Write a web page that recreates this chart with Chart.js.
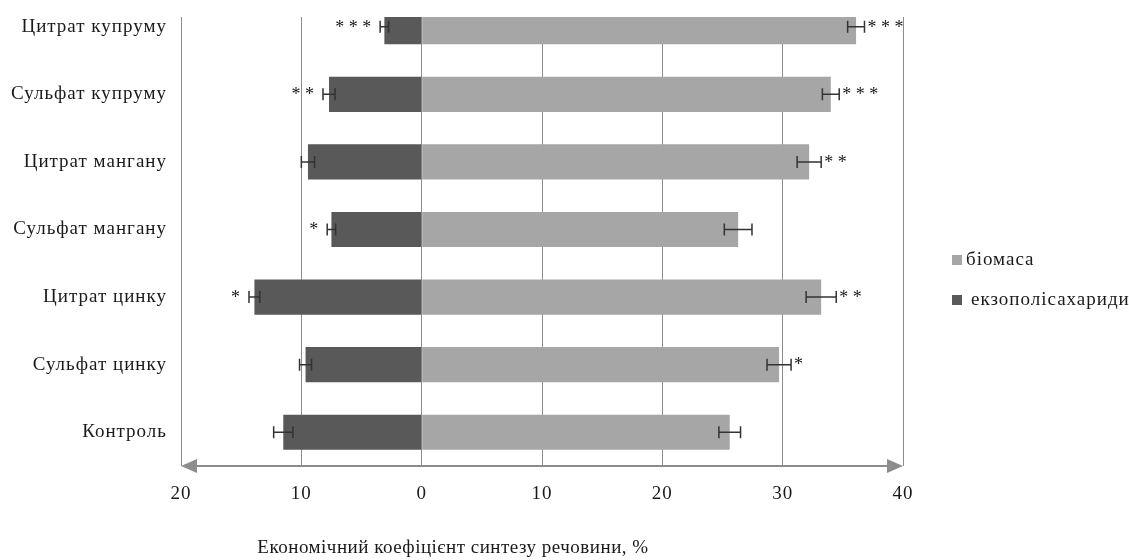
<!DOCTYPE html>
<html>
<head>
<meta charset="utf-8">
<script src="https://cdn.jsdelivr.net/npm/chart.js@4.4.1/dist/chart.umd.min.js"></script>
<style>
  html, body { margin: 0; padding: 0; background: #fff; }
  #wrap { position: absolute; left: 0; top: 17px; width: 1129px; height: 543px; overflow: hidden; }
  #chart { position: absolute; left: 0; top: -24px; }
</style>
</head>
<body>
<div id="wrap"><canvas id="chart" width="1129" height="567"></canvas></div>
<script>
// Data
const categories = ['Цитрат купруму', 'Сульфат купруму', 'Цитрат мангану', 'Сульфат мангану', 'Цитрат цинку', 'Сульфат цинку', 'Контроль'];
const biomass = [36.1, 34.0, 32.2, 26.3, 33.2, 29.7, 25.6];
const biomassErr = [0.7, 0.7, 1.0, 1.15, 1.25, 1.0, 0.9];
const exopoly = [3.1, 7.7, 9.45, 7.5, 13.9, 9.65, 11.5];
const exopolyErr = [0.35, 0.5, 0.55, 0.35, 0.45, 0.5, 0.8];
const biomassSig = ['* * *', '* * *', '* *', '', '* *', '*', ''];
const exopolySig = ['* * *', '* *', '', '*', '*', '', ''];
const xTicks = [-20, -10, 0, 10, 20, 30, 40];
const seriesNames = ['біомаса', 'екзополісахариди'];
const axisTitle = 'Економічний коефіцієнт синтезу речовини, %';

const FONT = '"Liberation Serif", "Times New Roman", serif';
const LIGHT = '#a6a6a6';
const DARK = '#595959';
const AXIS = '#8c8c8c';
const TEXT = '#1a1a1a';

// error bars, significance stars, arrowed axis, legend and title
const decor = {
    id: 'decor',
    beforeDraw(chart) {
        chart.ctx.letterSpacing = '1px';
    },
    afterDatasetsDraw(chart) {
        const ctx = chart.ctx;
        const x = chart.scales.x;
        const y = chart.scales.y;
        const area = chart.chartArea;
        ctx.save();

        // error bars
        ctx.strokeStyle = '#333';
        ctx.lineWidth = 1.5;
        const cap = 6;
        const whisker = (v, e, yc) => {
            const a = x.getPixelForValue(v - e);
            const b = x.getPixelForValue(v + e);
            ctx.beginPath();
            ctx.moveTo(a, yc); ctx.lineTo(b, yc);
            ctx.moveTo(a, yc - cap); ctx.lineTo(a, yc + cap);
            ctx.moveTo(b, yc - cap); ctx.lineTo(b, yc + cap);
            ctx.stroke();
        };
        categories.forEach((c, i) => {
            const yc = y.getPixelForValue(i);
            whisker(biomass[i], biomassErr[i], yc);
            whisker(-exopoly[i], exopolyErr[i], yc);
        });

        // stars
        ctx.letterSpacing = '0px';
        ctx.fillStyle = TEXT;
        ctx.font = '18px ' + FONT;
        ctx.textBaseline = 'middle';
        categories.forEach((c, i) => {
            const yc = y.getPixelForValue(i) + 1;
            if (biomassSig[i]) {
                ctx.textAlign = 'left';
                ctx.fillText(biomassSig[i], x.getPixelForValue(biomass[i] + biomassErr[i]) + 3, yc);
            }
            if (exopolySig[i]) {
                ctx.textAlign = 'right';
                ctx.fillText(exopolySig[i], x.getPixelForValue(-exopoly[i] - exopolyErr[i]) - 9, yc);
            }
        });

        // bottom axis with arrowheads
        const yb = area.bottom;
        ctx.strokeStyle = AXIS;
        ctx.fillStyle = AXIS;
        ctx.lineWidth = 2;
        ctx.beginPath();
        ctx.moveTo(area.left + 10, yb); ctx.lineTo(area.right - 10, yb);
        ctx.stroke();
        ctx.beginPath();
        ctx.moveTo(area.left, yb); ctx.lineTo(area.left + 16, yb - 7); ctx.lineTo(area.left + 16, yb + 7);
        ctx.closePath(); ctx.fill();
        ctx.beginPath();
        ctx.moveTo(area.right, yb); ctx.lineTo(area.right - 16, yb - 7); ctx.lineTo(area.right - 16, yb + 7);
        ctx.closePath(); ctx.fill();

        // legend
        ctx.letterSpacing = '1px';
        ctx.font = '19px ' + FONT;
        const colors = [LIGHT, DARK];
        const legendY = [267, 307];
        ctx.textAlign = 'left';
        seriesNames.forEach((n, i) => {
            ctx.fillStyle = colors[i];
            ctx.fillRect(952, legendY[i] - 5, 10, 10);
            ctx.fillStyle = TEXT;
            ctx.fillText(n, i === 0 ? 966 : 971, legendY[i]);
        });

        // axis title
        ctx.letterSpacing = '0.5px';
        ctx.textAlign = 'center';
        ctx.fillText(axisTitle, 453, 555);
        ctx.restore();
    }
};

new Chart(document.getElementById('chart'), {
    type: 'bar',
    data: {
        labels: categories,
        datasets: [
            { label: seriesNames[0], data: biomass, backgroundColor: LIGHT, barPercentage: 0.52, categoryPercentage: 1 },
            { label: seriesNames[1], data: exopoly.map(v => -v), backgroundColor: DARK, barPercentage: 0.52, categoryPercentage: 1 }
        ]
    },
    options: {
        responsive: false,
        animation: false,
        indexAxis: 'y',
        layout: { padding: { left: 0, right: 226, top: 0, bottom: 0 } },
        plugins: {
            legend: { display: false },
            tooltip: { enabled: false }
        },
        scales: {
            x: {
                min: -20,
                max: 40,
                stacked: true,
                afterFit: (s) => { s.height = 94; s.paddingLeft = 0; s.paddingRight = 0; },
                afterBuildTicks: (s) => { s.ticks = xTicks.map(v => ({ value: v })); },
                grid: { color: AXIS, lineWidth: 1, drawTicks: false },
                border: { display: false },
                ticks: {
                    padding: 17,
                    color: TEXT,
                    font: { family: FONT, size: 19 },
                    callback: (v) => Math.abs(v)
                }
            },
            y: {
                stacked: true,
                afterFit: (s) => { s.width = 181; s.paddingTop = 0; s.paddingBottom = 0; },
                grid: { display: false, drawTicks: false },
                border: { display: false },
                ticks: {
                    padding: 14,
                    color: TEXT,
                    font: { family: FONT, size: 19 }
                }
            }
        }
    },
    plugins: [decor]
});
</script>
</body>
</html>
